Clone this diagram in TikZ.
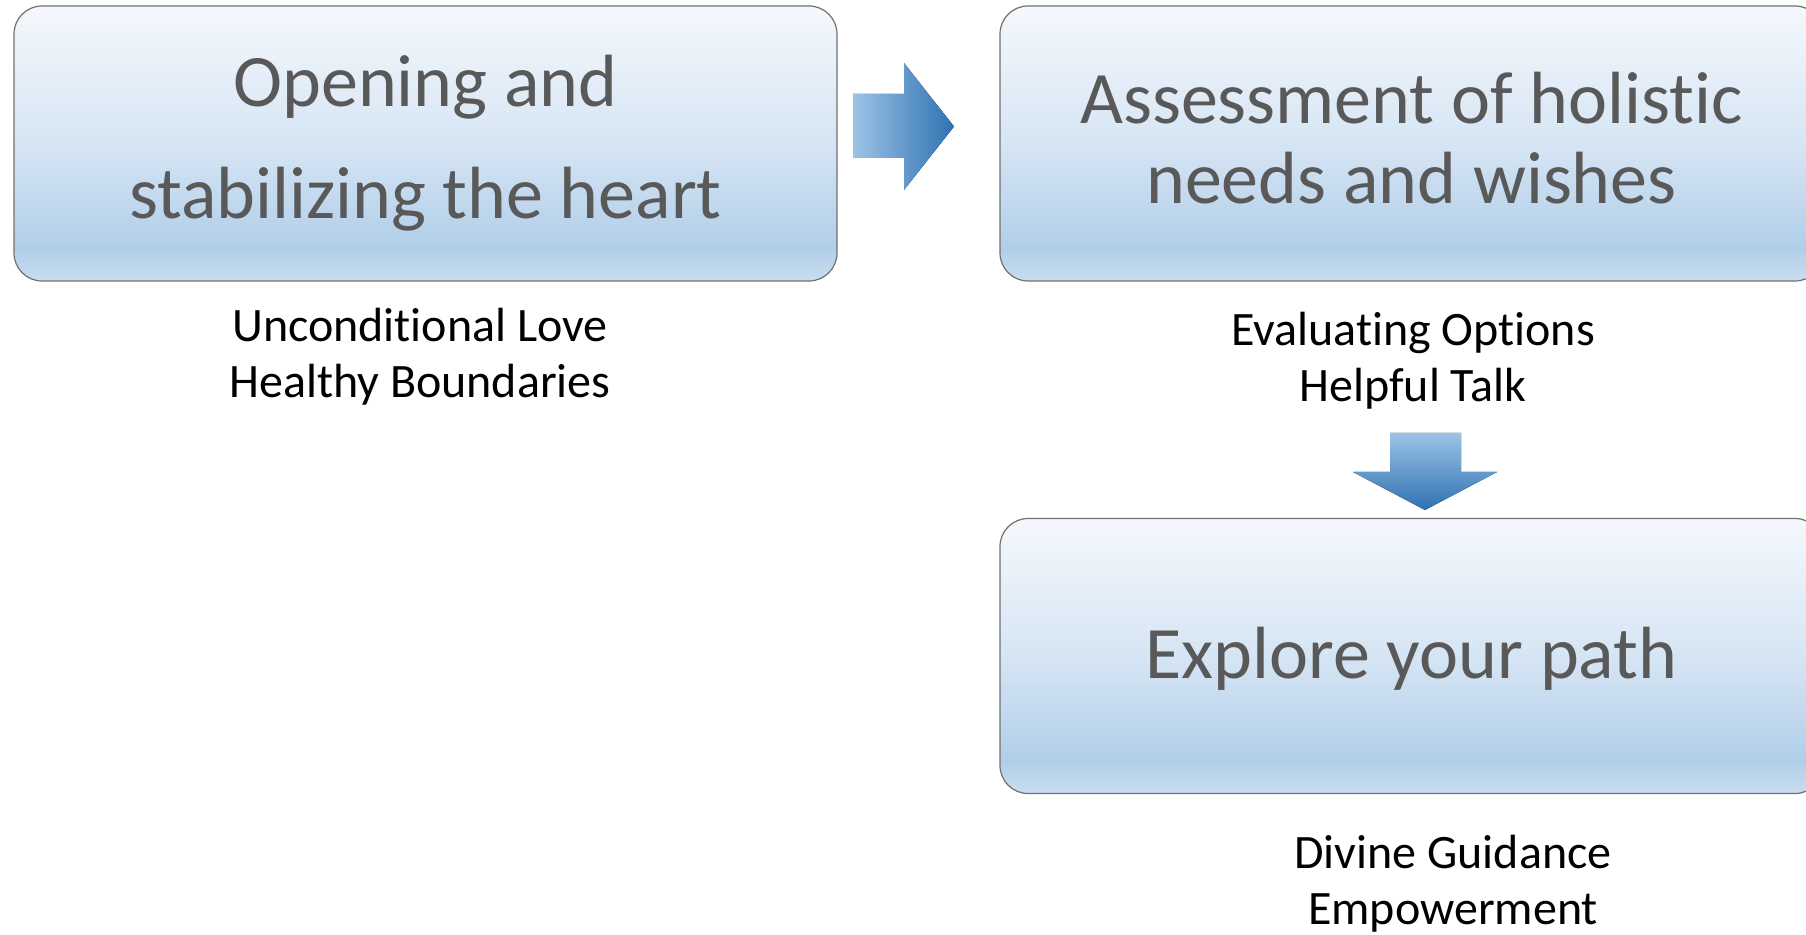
\documentclass[tikz,border=0pt]{standalone}
\usepackage{fontspec}
\setmainfont[Ligatures=NoCommon]{Carlito}
\usepackage{tikz}
\definecolor{sgray}  {RGB}{89,89,89}
\definecolor{bline}  {RGB}{112,112,112}
\definecolor{stopa}  {RGB}{245,248,252}
\definecolor{stopb}  {RGB}{214,229,244}
\definecolor{stopc}  {RGB}{177,206,233}
\definecolor{stopd}  {RGB}{201,221,239}
\definecolor{alight} {RGB}{157,195,230}
\definecolor{adark}  {RGB}{46,114,178}
\pgfdeclareverticalshading{stagefill}{100bp}{color(0bp)=(stopd); color(25bp)=(stopd);
  color(31bp)=(stopc); color(50bp)=(stopb); color(75bp)=(stopa); color(100bp)=(stopa)}
\tikzset{
    stage/.style={draw=bline, line width=0.6pt, rounded corners=14pt, shading=stagefill,
             minimum width=411.5pt, minimum height=137.5pt, inner sep=0pt,
             align=center, text=sgray},
    title/.style={align=center, text=sgray, inner sep=0pt},
    note/.style={align=center, text=black, font=\fontsize{24}{28}\selectfont},
    rarrow/.style={left color=alight, right color=adark},
    darrow/.style={top color=alight, bottom color=adark}
  }
\begin{document}
\begin{tikzpicture}[x=0.5pt, y=-0.5pt]
  \useasboundingbox (0,0) rectangle (1806,935);
  \clip (0,0) rectangle (1806,935);
  %Stage one
      \node[stage, font=\fontsize{37}{56}\selectfont] (open) at (425.5,143.5) {Opening and\\stabilizing the heart};
      \node[note] (opennote) at (420,357) {Unconditional Love\\Healthy Boundaries};
  %Stage two
      \node[stage] (assess) at (1411.5,143.5) {};
      \node[title, font=\fontsize{37}{40}\selectfont] (assesstext) at ([yshift=2.6pt]assess.center) {Assessment of holistic\\needs and wishes};
      \node[note] (assessnote) at (1413,361) {Evaluating Options\\Helpful Talk};
  %Stage three
      \node[stage] (explore) at (1411.5,656) {};
      \node[title, font=\fontsize{37}{44}\selectfont] (exploretext) at ([yshift=-1.6pt]explore.center) {Explore your path};
  \node[note] (explorenote) at (1453,884) {Divine Guidance\\Empowerment};
  % arrow one to two
      \fill[rarrow] (853,94) -- (904,94) -- (904,63) -- (954,126.5) -- (904,190) -- (904,158) -- (853,158) -- cycle;
  % arrow two to three
      \fill[darrow] (1390,433) -- (1461,433) -- (1461,472) -- (1497,472) -- (1425,510) -- (1353,472) -- (1390,472) -- cycle;
  \end{tikzpicture}
\end{document}
